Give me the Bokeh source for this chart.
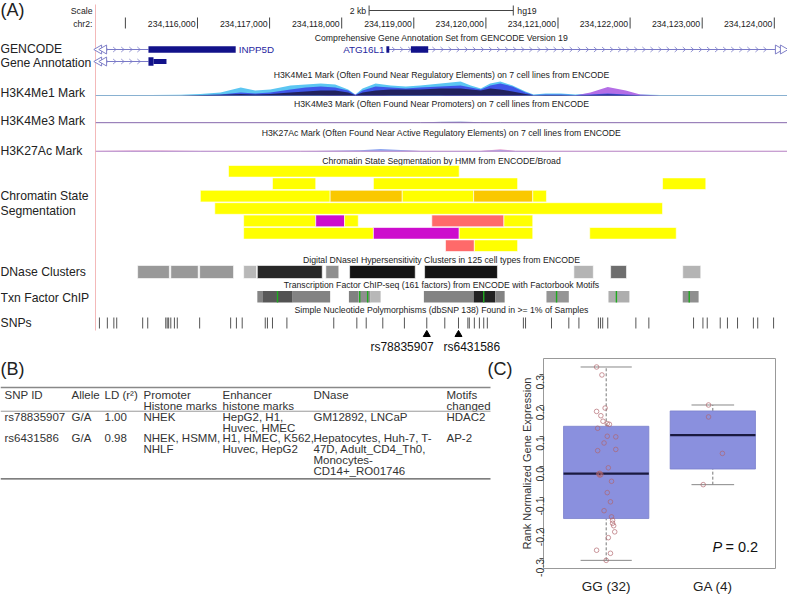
import numpy as np
from bokeh.plotting import figure
from bokeh.models import Range1d, FactorRange, FixedTicker, PrintfTickFormatter
from bokeh.layouts import column, row
from bokeh.embed import file_html
from bokeh.resources import INLINE
from bokeh.core.properties import value

FONT = "Liberation Sans"

# ------------------------------------------------------------------ data (A)
chrom_label = "chr2:"
assembly = "hg19"
view_start, view_end = 234113268, 234124183
coord_ticks = [234115000, 234116000, 234117000, 234118000, 234119000,
               234120000, 234121000, 234122000, 234123000, 234124000]
coord_labels = ["", "234,116,000", "234,117,000", "234,118,000", "234,119,000",
                "234,120,000", "234,121,000", "234,122,000", "234,123,000", "234,124,000"]
scale_bar_end = 234120380
scale_bar_bp = 2000
scale_bar_text = "2 kb"

track_labels = ["GENCODE", "Gene Annotation", "H3K4Me1 Mark", "H3K4Me3 Mark", "H3K27Ac Mark",
                "Chromatin State", "Segmentation", "DNase Clusters", "Txn Factor ChIP", "SNPs"]
track_titles = ["Comprehensive Gene Annotation Set from GENCODE Version 19",
                "H3K4Me1 Mark (Often Found Near Regulatory Elements) on 7 cell lines from ENCODE",
                "H3K4Me3 Mark (Often Found Near Promoters) on 7 cell lines from ENCODE",
                "H3K27Ac Mark (Often Found Near Active Regulatory Elements) on 7 cell lines from ENCODE",
                "Chromatin State Segmentation by HMM from ENCODE/Broad",
                "Digital DNaseI Hypersensitivity Clusters in 125 cell types from ENCODE",
                "Transcription Factor ChIP-seq (161 factors) from ENCODE with Factorbook Motifs",
                "Simple Nucleotide Polymorphisms (dbSNP 138) Found in >= 1% of Samples"]

# gene models
gene_names = ["INPP5D", "ATG16L1"]
tx_row = [0, 0, 1]
tx_start = [234114660, 234118640, 234114660]
tx_end = [234115320, 234124020, 234115320]
exon_row = [0, 0, 0, 1, 1]
exon_start = [234115320, 234118620, 234118960, 234115320, 234115390]
exon_end = [234116530, 234118660, 234119200, 234115390, 234115570]
exon_kind = ["cds", "cds", "cds", "cds", "utr"]

# histone signals (arbitrary units)
k4me1_pos = [234114590, 234114930, 234115350, 234115770, 234116040, 234116320, 234116600,
             234116800, 234117010, 234117290, 234117500, 234117710, 234117910, 234118090,
             234118190, 234118290, 234118470, 234118680, 234118890, 234119090, 234119370,
             234119650, 234119790, 234119930, 234120060, 234120200, 234120370, 234120550,
             234120660, 234120830, 234121040, 234121240, 234121450, 234121690, 234121940,
             234122140, 234122420, 234124180]
k4me1_light = [0.5, 0.5, 0.6, 0.8, 1.5, 3, 8, 5, 6, 10, 11, 12, 11, 6, 1, 7, 12, 10, 9, 10, 12,
               14, 10, 7, 12, 14, 10, 4, 1, 2, 2, 1, 2, 3, 2, 1, 0.5, 0.5]
k4me1_purple = [0, 0, 0, 0, 0, 0, 0, 0, 0, 0, 0, 0, 1, 2, 1, 2, 1, 0, 0, 0, 0, 2, 3, 3, 3, 2,
                1, 0, 0, 0, 0, 0, 3, 8.5, 5, 1, 0, 0]
k4me1_blue = [0, 0, 0, 0, 0.3, 1, 3, 2, 3, 6, 8, 9, 8, 5, 0.5, 5, 9, 8, 7, 8, 9, 10, 8, 6, 10,
              12, 9, 3, 0.5, 1, 1, 0.5, 1, 2, 1, 0.3, 0, 0]
k4me1_dark = [0.3, 0.3, 0.3, 0.3, 0.5, 0.8, 1.5, 1, 1.5, 3, 4, 5, 5, 3, 0.3, 3, 5, 6, 6, 6, 7,
              7, 6, 5, 7, 6, 4, 1.5, 0.3, 0.5, 0.5, 0.3, 0.5, 1, 0.5, 0.3, 0.3, 0.3]
k4me3_pos = [234114590, 234119090, 234119370, 234119650, 234119930, 234120200, 234124180]
k4me3_val = [0.4, 0.4, 1.2, 1.6, 0.8, 0.4, 0.4]
k27ac_pos = [234114590, 234115070, 234115490, 234116040, 234117430, 234118260, 234118540,
             234118820, 234119090, 234119930, 234120200, 234120410, 234120760, 234124180]
k27ac_pink = [0.4, 0.9, 1.1, 0.6, 0.4, 0.8, 1.5, 1.0, 0.5, 0.6, 2.2, 0.6, 0.4, 0.4]
k27ac_blue = [0.3, 0.5, 0.6, 0.4, 0.3, 1.2, 2.6, 1.6, 0.4, 0.4, 1.2, 0.4, 0.3, 0.3]

# chromatin state segmentation (row, start, end, state)
seg_row = [0, 1, 1, 1, 2, 2, 2, 2, 2, 3, 4, 4, 4, 4, 4, 5, 5, 5, 5, 6, 6]
seg_start = [234116430, 234117040, 234118440, 234122450, 234116040, 234117840, 234118840,
             234119830, 234120650, 234116240, 234116640, 234117640, 234118040, 234119250,
             234120250, 234116640, 234118440, 234119630, 234121440, 234119440, 234119840]
seg_end = [234119630, 234117640, 234120440, 234123050, 234117840, 234118840, 234119830,
           234120650, 234120840, 234122450, 234117640, 234118040, 234118230, 234120250,
           234120650, 234118440, 234119630, 234120650, 234122640, 234119840, 234120440]
seg_state = ["weak", "weak", "weak", "weak", "weak", "strong", "weak", "strong", "weak", "weak",
             "weak", "poised", "weak", "insul", "weak", "weak", "poised", "weak", "weak",
             "insul", "weak"]

# DNase clusters (start, end, score 0-1)
dnase_start = [234115170, 234115630, 234116030, 234116640, 234116830, 234117780, 234118110,
               234119150, 234121220, 234121730, 234122730]
dnase_end = [234115610, 234116010, 234116500, 234116820, 234117730, 234117960, 234119020,
             234120160, 234121490, 234121950, 234122980]
dnase_score = [0.35, 0.35, 0.35, 0.2, 0.9, 0.4, 1.0, 1.0, 0.22, 0.56, 0.22]

# TF ChIP clusters
tf_start = [234116830, 234116900, 234117110, 234117320, 234118100, 234118230, 234118400,
            234119140, 234119830, 234120130, 234120840, 234121700, 234122730]
tf_end = [234116900, 234117110, 234117320, 234117840, 234118230, 234118400, 234118540,
          234119830, 234120130, 234120260, 234121150, 234121990, 234122950]
tf_score = [0.45, 0.67, 0.7, 0.46, 0.47, 0.4, 0.2, 0.46, 0.93, 0.46, 0.37, 0.25, 0.4]
motif_pos = [234117110, 234118250, 234118360, 234119970, 234120980, 234121810, 234122820]

# SNPs
snp_pos = [234114640, 234114750, 234114840, 234114880, 234115240, 234115310, 234115560,
           234115580, 234115600, 234115630, 234115680, 234115720, 234116030, 234116460,
           234116540, 234116620, 234116940, 234116970, 234117040, 234117240, 234117890,
           234118210, 234118340, 234118570, 234118870, 234119180, 234119430, 234119620,
           234119750, 234119770, 234119840, 234119910, 234119970, 234120020, 234120520,
           234120550, 234120910, 234121150, 234121290, 234121560, 234121590, 234121620,
           234121690, 234122080, 234122260, 234122880, 234123010, 234123070, 234123250,
           234123350, 234123490, 234123710, 234123770, 234123990]
hit_snp_names = ["rs78835907", "rs6431586"]
hit_snp_pos = [234119180, 234119620]

# ------------------------------------------------------------------ data (B)
table_header1 = ["SNP ID", "Allele", "LD (r²)", "Promoter", "Enhancer", "DNase", "Motifs"]
table_header2 = ["", "", "", "Histone marks", "histone marks", "", "changed"]
table_rows = [
    [["rs78835907"], ["G/A"], ["1.00"], ["NHEK"], ["HepG2, H1,", "Huvec, HMEC"],
     ["GM12892, LNCaP"], ["HDAC2"]],
    [["rs6431586"], ["G/A"], ["0.98"], ["NHEK, HSMM,", "NHLF"], ["H1, HMEC, K562,", "Huvec, HepG2"],
     ["Hepatocytes, Huh-7, T-", "47D, Adult_CD4_Th0,", "Monocytes-", "CD14+_RO01746"], ["AP-2"]],
]

# ------------------------------------------------------------------ data (C)
groups = ["GG (32)", "GA (4)"]
gg_values = [0.326, 0.300, 0.192, 0.181, 0.167, 0.149, 0.141, 0.139, 0.126, 0.100, 0.098,
             0.078, 0.057, 0.053, -0.003, -0.021, -0.023, -0.025, -0.027, -0.047, -0.084,
             -0.114, -0.143, -0.163, -0.174, -0.184, -0.192, -0.212, -0.231, -0.272, -0.282,
             -0.305]
gg_jitter = [-0.09, -0.04, -0.01, -0.09, -0.05, -0.03, 0.01, 0.03, -0.08, 0.01, 0.09, -0.02,
             0.09, -0.08, 0.02, -0.06, -0.07, -0.05, -0.06, 0.05, 0.01, 0.04, -0.02, 0.05,
             0.06, 0.06, 0.07, 0.08, 0.02, -0.09, 0.04, 0.0]
ga_values = [0.202, 0.163, 0.044, -0.058]
ga_jitter = [-0.04, -0.04, 0.09, -0.09]
p_value_text = "= 0.2"
y_ticks = [-0.3, -0.2, -0.1, 0.0, 0.1, 0.2, 0.3]

# ------------------------------------------------------------------ layout constants
H_A = 357
H_B = 596 - H_A
W_B = 512
W_C = 787 - W_B


def fs(px):
    return f"{px:.1f}px"


def txt(p, x, y, s, size, align="left", color="#222222", style="normal", **kw):
    p.text(x=[x], y=[y], text=[s], text_font=value(FONT), text_font_size=fs(size),
           text_align=align, text_baseline="middle", text_color=color,
           text_font_style=style, **kw)


def blank(fig):
    fig.xgrid.visible = False
    fig.ygrid.visible = False
    fig.outline_line_color = None
    fig.background_fill_color = "white"
    fig.border_fill_color = "white"


# ================================================================== panel A
pa = figure(width=787, height=H_A, x_range=Range1d(0, 787), y_range=Range1d(H_A, 0),
            output_backend="svg", toolbar_location=None, min_border=0,
            x_axis_location=None, y_axis_location=None)
blank(pa)
pa.extra_x_ranges = {"g": Range1d(view_start, view_end)}
baselines = {"k4me1": 95.0, "k4me3": 122.5, "k27ac": 151.0}
pa.extra_y_ranges = {k: Range1d(b - H_A, b) for k, b in baselines.items()}
G = dict(x_range_name="g")

txt(pa, 0, 9, "(A)", 18)
pa.segment(x0=[95], y0=[4], x1=[95], y1=[330], line_color="#f3b9b9", line_width=1)

# ruler
RF = 8.7
txt(pa, 92, 10, "Scale", RF, align="right")
txt(pa, 92, 23, chrom_label, RF, align="right")
pa.segment(x0=coord_ticks, y0=[17] * len(coord_ticks), x1=coord_ticks, y1=[28] * len(coord_ticks),
           line_color="#444444", line_width=1, **G)
pa.text(x=coord_ticks, y=[23] * len(coord_ticks), text=coord_labels, text_font=value(FONT),
        text_font_size=fs(RF), text_align="right", text_baseline="middle", x_offset=-2,
        text_color="#222222", **G)
sb0 = scale_bar_end - scale_bar_bp
pa.segment(x0=[sb0, sb0, scale_bar_end], y0=[10, 5, 5], x1=[scale_bar_end, sb0, scale_bar_end],
           y1=[10, 15, 15], line_color="#444444", line_width=1, **G)
pa.text(x=[sb0], y=[10], text=[scale_bar_text], text_font=value(FONT), text_font_size=fs(RF),
        text_align="right", text_baseline="middle", x_offset=-3, text_color="#222222", **G)
pa.text(x=[scale_bar_end], y=[10], text=[assembly], text_font=value(FONT), text_font_size=fs(RF),
        text_align="left", text_baseline="middle", x_offset=4, text_color="#222222", **G)

# track labels and titles
label_y = [48, 62, 92, 120, 150, 195, 210, 271, 297, 322]
for s, y in zip(track_labels, label_y):
    txt(pa, 0, y, s, 12.2)
title_y = [37, 74, 103, 132, 160, 259, 284, 309]
for s, y in zip(track_titles, title_y):
    txt(pa, 441, y, s, 8.7, align="center")

# genes
row_y = [49, 61]
GENE_C = "#12128a"
LINE_C = "#7a7ac8"
for r, s, e in zip(tx_row, tx_start, tx_end):
    y = row_y[r]
    pa.segment(x0=[s], y0=[y], x1=[e], y1=[y], line_color=LINE_C, line_width=1, **G)
    ch = np.arange(s + 90, e - 40, 112)
    pa.segment(x0=ch - 32, y0=[y - 2.5] * len(ch), x1=ch + 8, y1=[y] * len(ch),
               line_color=LINE_C, line_width=0.8, **G)
    pa.segment(x0=ch - 32, y0=[y + 2.5] * len(ch), x1=ch + 8, y1=[y] * len(ch),
               line_color=LINE_C, line_width=0.8, **G)
for r, s, e, k in zip(exon_row, exon_start, exon_end, exon_kind):
    y = row_y[r]
    h = (3.2 if r == 0 else 4.2) if k == "cds" else 2.4
    pa.quad(left=[s], right=[e], top=[y - h], bottom=[y + h], fill_color=GENE_C,
            line_color=None, **G)
pa.text(x=[exon_end[0]], y=[row_y[0]], text=[gene_names[0]], text_font=value(FONT),
        text_font_size=fs(9.8), text_baseline="middle", x_offset=3, text_color="#1f1fa0", **G)
pa.text(x=[exon_start[1]], y=[row_y[0]], text=[gene_names[1]], text_font=value(FONT),
        text_font_size=fs(9.8), text_baseline="middle", text_align="right", x_offset=-2,
        text_color="#1f1fa0", **G)
for y in row_y:
    pa.scatter(x=[98.5, 103.5], y=[y, y], marker="triangle", size=9, angle=np.pi / 2,
               fill_color="white", line_color="#8080c8", line_width=1)
pa.scatter(x=[777.5, 782.5], y=[row_y[0]] * 2, marker="triangle", size=9, angle=-np.pi / 2,
           fill_color="white", line_color="#8080c8", line_width=1)

# histone tracks
pa.varea(x=k4me1_pos, y1=0, y2=k4me1_light, fill_color="#5cc6f2", y_range_name="k4me1", **G)
pa.varea(x=k4me1_pos, y1=0, y2=k4me1_purple, fill_color="#b46ee6", y_range_name="k4me1", **G)
pa.varea(x=k4me1_pos, y1=0, y2=k4me1_blue, fill_color="#3f56e8", y_range_name="k4me1", **G)
pa.varea(x=k4me1_pos, y1=0, y2=k4me1_dark, fill_color="#22225e", y_range_name="k4me1", **G)
pa.varea(x=k4me3_pos, y1=0, y2=k4me3_val, fill_color="#9aa6d8", y_range_name="k4me3", **G)
pa.line(x=k4me3_pos, y=[0.3] * len(k4me3_pos), line_color="#8f6fb0", line_width=1,
        y_range_name="k4me3", **G)
pa.varea(x=k27ac_pos, y1=0, y2=k27ac_pink, fill_color="#e8a0d0", y_range_name="k27ac", **G)
pa.varea(x=k27ac_pos, y1=0, y2=k27ac_blue, fill_color="#8fa6f0", y_range_name="k27ac", **G)
pa.line(x=k27ac_pos, y=[0.3] * len(k27ac_pos), line_color="#c090c8", line_width=1,
        y_range_name="k27ac", **G)

# chromatin state segmentation
state_col = {"weak": "#ffff00", "strong": "#fac800", "poised": "#cd0ccd", "insul": "#ff6a6a"}
seg_top = [165 + 12.4 * r for r in seg_row]
pa.quad(left=seg_start, right=seg_end, top=seg_top, bottom=[t + 11.6 for t in seg_top],
        fill_color=[state_col[s] for s in seg_state], line_color="white", line_width=0.6, **G)


def grey(v):
    c = int(round(225 - 205 * v))
    return "#%02x%02x%02x" % (c, c, c)


pa.quad(left=dnase_start, right=dnase_end, top=[265] * len(dnase_start),
        bottom=[278] * len(dnase_start), fill_color=[grey(v) for v in dnase_score],
        line_color="white", line_width=0.6, **G)
pa.quad(left=tf_start, right=tf_end, top=[290.5] * len(tf_start), bottom=[302] * len(tf_start),
        fill_color=[grey(v) for v in tf_score], line_color=None, **G)
pa.segment(x0=motif_pos, y0=[290.5] * len(motif_pos), x1=motif_pos, y1=[302] * len(motif_pos),
           line_color="#1faa1f", line_width=1.4, **G)
pa.segment(x0=snp_pos, y0=[317] * len(snp_pos), x1=snp_pos, y1=[328] * len(snp_pos),
           line_color="#555555", line_width=1, **G)
pa.scatter(x=hit_snp_pos, y=[334] * 2, marker="triangle", size=7, fill_color="black",
           line_color="black", **G)
pa.text(x=[hit_snp_pos[0]], y=[346], text=[hit_snp_names[0]], text_font=value(FONT),
        text_font_size=fs(12), text_align="right", text_baseline="middle", x_offset=7,
        text_color="#111111", **G)
pa.text(x=[hit_snp_pos[1]], y=[346], text=[hit_snp_names[1]], text_font=value(FONT),
        text_font_size=fs(12), text_align="left", text_baseline="middle", x_offset=-15,
        text_color="#111111", **G)

# ================================================================== panel B
pb = figure(width=W_B, height=H_B, x_range=Range1d(0, W_B), y_range=Range1d(596, H_A),
            output_backend="svg", toolbar_location=None, min_border=0,
            x_axis_location=None, y_axis_location=None)
blank(pb)
txt(pb, 0, 369, "(B)", 18)
txt(pb, W_B - 25, 369, "(C)", 18)
col_x = [4, 71, 104, 143, 222, 313, 446]
TC = "#333333"
TFS = 11.5
for x, s1, s2 in zip(col_x, table_header1, table_header2):
    txt(pb, x, 399, s1, TFS, color=TC)
    if s2:
        txt(pb, x, 411, s2, TFS, color=TC)
row_y0 = [424, 448]
for ry, cells in zip(row_y0, table_rows):
    for x, lines in zip(col_x, cells):
        for i, s in enumerate(lines):
            txt(pb, x, ry + 12.4 * i, s, TFS, color=TC)
pb.segment(x0=[0, 0, 0], y0=[390, 417, 494], x1=[490, 490, 490], y1=[390, 417, 494],
           line_color=["#888888", "#999999", "#555555"], line_width=[1.6, 1, 1.4])

# ================================================================== panel C


def fivenum(v):
    x = np.sort(np.asarray(v, dtype=float))
    n = len(x)
    n4 = np.floor((n + 3) / 2) / 2
    d = np.array([1, n4, (n + 1) / 2, n + 1 - n4, n]) - 1
    return 0.5 * (x[np.floor(d).astype(int)] + x[np.ceil(d).astype(int)])


pc = figure(width=W_C, height=H_B, x_range=FactorRange(factors=groups, range_padding=0.088),
            y_range=Range1d(-0.3316, 0.3537), output_backend="svg", toolbar_location=None,
            min_border_left=543 - W_B, min_border_right=12, min_border_top=1,
            min_border_bottom=21)
pc.xgrid.visible = False
pc.ygrid.visible = False
pc.outline_line_color = "#999999"
pc.outline_line_width = 1
pc.background_fill_color = "white"
pc.border_fill_color = "white"

centers = [0.5, 1.5]
cap_half = [0.24, 0.2]
for c, vals, jit, ch in zip(centers, [gg_values, ga_values], [gg_jitter, ga_jitter], cap_half):
    lo, q1, med, q3, hi = fivenum(vals)
    iqr = q3 - q1
    v = np.asarray(vals)
    wlo = v[v >= q1 - 1.5 * iqr].min()
    whi = v[v <= q3 + 1.5 * iqr].max()
    pc.segment(x0=[c, c], y0=[wlo, q3], x1=[c, c], y1=[q1, whi], line_color="#777777",
               line_dash="3 2", line_width=1)
    pc.segment(x0=[c - ch, c - ch], y0=[wlo, whi], x1=[c + ch, c + ch], y1=[wlo, whi],
               line_color="#888888", line_width=1)
    pc.quad(left=[c - 0.4], right=[c + 0.4], bottom=[q1], top=[q3], fill_color="#8a90de",
            line_color="#7a80cc", line_width=0.8)
    pc.segment(x0=[c - 0.4], y0=[med], x1=[c + 0.4], y1=[med], line_color="#1a1a40",
               line_width=2.4)
    pc.scatter(x=[c + j for j in jit], y=vals, marker="circle", size=4.6, fill_color=None,
               line_color="#b0646c", line_alpha=0.75, line_width=0.9)

pc.text(x=[1.497], y=[-0.262], text=["P"], text_font=value(FONT), text_font_size=fs(14.5),
        text_font_style="italic", text_baseline="middle", text_color="#111111")
pc.text(x=[1.497], y=[-0.262], text=[p_value_text], text_font=value(FONT),
        text_font_size=fs(14.5), text_baseline="middle", x_offset=13, text_color="#111111")

pc.yaxis.ticker = FixedTicker(ticks=y_ticks)
pc.yaxis.formatter = PrintfTickFormatter(format="%.1f")
pc.yaxis.major_label_orientation = np.pi / 2
pc.yaxis.major_label_text_font = FONT
pc.yaxis.major_label_text_font_size = fs(10.5)
pc.yaxis.major_label_text_color = "#333333"
pc.yaxis.major_label_standoff = -1
pc.yaxis.major_tick_out = 4
pc.yaxis.major_tick_in = 0
pc.yaxis.minor_tick_line_color = None
pc.yaxis.axis_line_color = None
pc.yaxis.major_tick_line_color = "#555555"
pc.yaxis.axis_label = "Rank Normalized Gene Expression"
pc.yaxis.axis_label_text_font = FONT
pc.yaxis.axis_label_text_font_style = "normal"
pc.yaxis.axis_label_text_font_size = fs(11)
pc.yaxis.axis_label_text_color = "#333333"
pc.yaxis.axis_label_standoff = -3
pc.xaxis.major_tick_line_color = None
pc.xaxis.axis_line_color = None
pc.xaxis.major_label_text_font = FONT
pc.xaxis.major_label_text_font_size = fs(13.5)
pc.xaxis.major_label_text_color = "#222222"
pc.xaxis.major_label_standoff = 4

layout = column(pa, row(pb, pc))
open("out.html", "w").write(file_html(layout, INLINE))
